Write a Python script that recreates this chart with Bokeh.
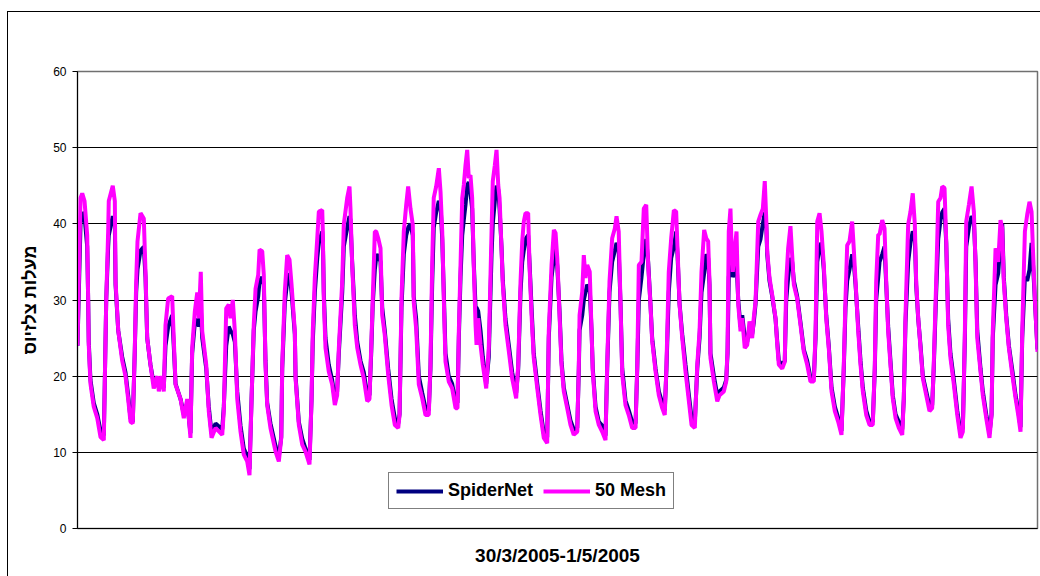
from bokeh.plotting import figure
from bokeh.models import Range1d, FixedTicker, Legend, LegendItem
from bokeh.embed import file_html
from bokeh.resources import INLINE

# Hours since start of logging (30/3/2005 .. 1/5/2005)
hours = [
    0, 2.5, 3.9, 5.8, 8.0, 8.8, 9.3, 10.7, 13.4, 16.3, 19.0, 21.7, 22.5,
    23.7, 25.3, 25.8, 29.1, 30.8, 31.4, 33.6, 36.9, 39.6, 41.8, 43.7, 45.6,
    47.3, 48.4, 49.5, 52.0, 54.7, 56.1, 57.5, 60.2, 62.9, 65.8, 67.1, 69.3, 71.2,
    72.6, 74.8, 78.1, 79.4, 80.9, 85.0, 87.7, 90.5, 93.2,
    94.6, 96.8, 98.8, 100.1, 101.7, 102.9, 106.2, 108.3, 110.6, 113.9, 119.4,
    120.7, 122.7, 124.8, 126.2, 128.1, 129.8, 131.8, 134.5, 137.2, 140.0, 141.9,
    143.6, 145.4, 146.9, 149.1, 150.2, 152.4, 153.7, 155.1, 156.5, 159.2, 163.4, 166.1, 168.1,
    168.9, 171.0, 173.0, 174.9, 176.6, 179.3, 179.9, 182.6, 185.4, 188.1, 191.4,
    193.1, 194.1, 195.8, 197.8, 199.1, 201.9, 202.4, 203.2, 204.6, 207.3, 210.1, 212.3, 214.2,
    215.6, 218.4, 219.7, 222.5, 224.4, 225.2, 226.6, 228.8, 230.8, 233.5, 236.2, 239.0, 240.9,
    242.3, 243.6, 245.3, 246.4, 248.1, 250.0, 251.4, 253.5, 256.3, 259.1, 261.8, 264.6, 265.7,
    267.3, 269.2, 271.2, 272.8, 274.7, 276.6, 277.4, 279.4, 281.6, 284.4, 287.1, 289.8,
    291.2, 292.6, 293.9, 295.9, 298.1, 299.5, 300.9, 302.2, 303.6, 306.3, 309.1, 311.9, 313.5,
    314.6, 316.0, 317.4, 318.7, 320.1, 321.5, 322.8, 324.2, 325.6, 326.9, 328.4, 329.2, 330.6, 332.5, 334.4, 337.2, 339.3,
    341.6, 342.6, 344.3, 345.7, 347.1, 348.2, 349.8, 350.9, 353.1, 355.9, 358.6, 361.9,
    363.6, 365.5, 366.9, 368.2, 369.6, 371.8, 372.9, 374.6, 376.4, 379.3, 382.0, 384.7, 387.5,
    388.8, 391.1, 393.0, 394.4, 395.8, 397.7, 399.3, 401.2, 404.0, 406.7, 409.4, 412.3,
    413.6, 414.2, 416.4, 417.7, 419.1, 420.5, 422.6, 424.1, 425.1, 427.4, 430.1, 432.9, 435.6,
    437.0, 438.9, 441.1, 443.3, 444.7, 446.5, 448.0, 449.4, 452.1, 454.8, 457.6, 460.4,
    461.8, 463.1, 465.3, 467.2, 469.2, 470.8, 472.7, 474.1, 476.9, 479.6, 482.4, 484.5,
    485.9, 487.8, 489.8, 492.0, 493.9, 495.0, 496.7, 498.9, 501.6, 504.4, 506.6, 509.3,
    511.3, 513.2, 514.8, 517.0, 518.7, 520.3, 521.4, 522.2, 525.0, 527.8, 529.7, 533.2, 535.2,
    536.3, 537.3, 538.7, 539.6, 540.6, 542.3, 543.7, 545.1, 547.0, 548.4, 550.5, 552.5, 554.4, 556.6, 557.9, 559.4,
    561.6, 563.5, 565.4, 567.0, 568.2, 569.0, 570.9, 573.1, 575.9, 577.3, 578.6, 581.4, 583.5,
    584.7, 586.3, 588.2, 589.6, 591.0, 593.7, 596.5, 599.2, 602.0, 604.7, 607.5, 608.9,
    610.3, 612.2, 613.8, 615.7, 617.7, 619.8, 622.1, 624.8, 627.6, 630.3,
    632.2, 633.6, 635.0, 636.9, 639.1, 640.4, 641.9, 644.1, 646.0, 647.9, 650.7, 653.4, 656.1,
    657.8, 658.9, 660.6, 661.7, 663.9, 665.8, 667.2, 668.8, 670.7, 672.6, 674.9, 677.6, 680.4,
    681.7, 683.1, 685.3, 687.2, 689.1, 690.8, 691.9, 693.6, 695.5, 697.4, 700.2, 702.9, 705.1,
    706.4, 708.4, 710.1, 712.0, 713.4, 715.3, 716.7, 718.3, 720.2, 723.0, 725.8, 728.5, 730.4,
    732.1, 733.2, 735.4, 737.6, 739.5, 740.9, 742.3, 745.0, 746.9, 749.7, 752.4, 754.1,
    755.1, 757.4, 759.6, 761.5, 762.9, 764.2, 766.2, 768.4, 771.2, 773.9, 776.1, 778.0,
    779.4, 781.6, 783.5, 785.4, 787.1, 788.2, 789.8, 792.0,
]

mesh50 = [
    24, 43.4, 44, 43, 38.5, 30, 24, 19, 16, 14.5, 12, 11.6, 19,
    30, 39, 43, 45, 43, 32.4, 26, 22, 20, 17, 14, 13.8,
    23.7, 32.4, 37.7, 41.4, 40.7, 33.7, 25, 21.5, 18.4, 20, 18, 20, 18,
    26.7, 30.2, 30.5, 25, 18.9, 17, 14.5, 17, 11.9,
    23.7, 28.5, 31, 27.6, 33.7, 25.9, 21.5, 15.4, 11.9, 13.2, 12.3,
    15.4, 28.9, 29.4, 27.6, 30, 25.9, 17, 12.7, 9.7, 8.8, 7,
    17, 26.7, 31.5, 33.3, 36.6, 36.4, 33.3, 21.5, 16.2, 13.2, 10.1, 8.8, 11.9,
    21.5, 31, 35.9, 35.3, 32, 25.9, 19.7, 13.6, 11, 10.1, 8.4,
    17, 25.9, 32.9, 38.1, 41.6, 41.8, 39, 30.2, 23.7, 20.6, 18.9, 16.2, 17.5,
    23.7, 32.4, 39.9, 43.4, 44.9, 42, 34.6, 26.7, 23.7, 21.5, 19.7, 16.7, 17,
    23.7, 30.2, 39, 39, 38.1, 36.8, 28, 25.4, 20.2, 16.2, 13.6, 13.2, 14.9,
    30.2, 39, 42.5, 44.9, 42, 39.9, 29.7, 26.2, 18.9, 17.1, 14.9, 14.9,
    21.5, 34.6, 43.4, 44.9, 47.3, 44.2, 39, 30.2, 21.9, 19.3, 18.4, 15.8, 15.8,
    25.9, 34.6, 43.4, 45.1, 47.7, 49.7, 46, 46.4, 43.4, 34.6, 26.7, 24.1, 27.6, 24.1, 21.5, 18.4, 23.7,
    39, 45.6, 47.7, 49.7, 45.1, 43.4, 36.8, 32, 26.7, 23.2, 19.7, 17.1,
    21.5, 32.4, 37.7, 40.3, 41.4, 41.4, 34.6, 28, 22.4, 18.4, 14.9, 11.9, 11.2,
    25.9, 34.6, 39.2, 38.8, 35.5, 28, 21.5, 18, 15.8, 13.6, 12.3, 12.7,
    21.5, 28, 31.1, 35.9, 32.9, 34.6, 33.7, 25.9, 20.6, 15.4, 13.6, 12.7, 11.6,
    21.5, 32.4, 38.1, 39.4, 41, 39, 29.4, 20.2, 16.2, 14.9, 13.2, 13.2,
    21.5, 34.6, 35, 42, 42.5, 34.6, 29.4, 24.6, 20.6, 17.5, 15.8, 14.9,
    21.5, 33.7, 38.1, 41.8, 41.6, 36.8, 29.4, 25, 20.6, 16.7, 13.6, 13.2,
    21.5, 25.9, 33.7, 39.2, 38.1, 37.7, 32.4, 22.4, 19.3, 16.7, 17.5, 18, 19.3,
    23.7, 39, 42, 37.2, 33.7, 36.8, 39, 29.4, 25.9, 27.6, 23.7, 24.1, 27.2, 25, 27.6, 29.8,
    40.3, 41.2, 42, 45.6, 40.7, 36.4, 32.9, 30.7, 27.6, 24.1, 21.5, 21, 21.9,
    32.4, 36.8, 39.7, 35.9, 32, 30.2, 26.7, 23.2, 21.5, 19.3, 19.3, 25.9,
    40.3, 41.4, 39, 34.6, 27.6, 23.7, 18, 15.4, 14, 12.3,
    21.5, 30.2, 37.2, 37.7, 40.3, 36.8, 32.4, 25.9, 21.5, 18, 14.9, 13.6, 13.6,
    21.5, 32.4, 38.6, 38.6, 40.5, 39.4, 32.4, 25.9, 21.5, 17.1, 14.5, 13.2, 12.3,
    17.1, 28, 39.9, 41.6, 44, 39.9, 32.4, 27.6, 23.7, 19.7, 17.5, 15.4, 15.8,
    21.5, 32.4, 42.9, 43.4, 44.9, 44.7, 37.7, 26.7, 22.4, 18.9, 14.9, 11.9, 12.7,
    25.9, 40.3, 42.5, 44.9, 41.6, 34.6, 25, 20.6, 17.5, 14.5, 11.9, 14.9,
    25.9, 36.8, 35, 40.5, 39.4, 32.4, 27.6, 23.7, 20.2, 17.1, 14.9, 12.7,
    25.9, 39, 41.2, 42.9, 41.6, 36.8, 30.2, 23.2,
]

spidernet = [
    24, 40, 41.5, 41, 37, 30, 24.5, 19.5, 16.5, 15, 12.8, 12.2, 19,
    30, 37, 38.5, 41, 40, 32, 26, 22.5, 20.5, 17.5, 14.5, 14,
    23.5, 31, 34, 36.5, 37, 33, 25, 21.5, 19, 19.5, 18.5, 19.5, 18.5,
    24, 26.5, 28, 24, 19, 17, 15, 16.5, 12.5,
    23, 27, 27.5, 26.5, 29, 25, 21, 16, 12.5, 13.8, 13,
    16, 24, 26.5, 26, 25.5, 24.5, 18, 13.5, 10.5, 9.5, 7.8,
    17, 26, 28.5, 30.5, 32.5, 33, 32, 22, 16.5, 13.8, 10.8, 9.5, 12,
    21, 29.5, 32.5, 33.5, 31, 25.5, 20, 14, 11.8, 10.5, 9,
    17, 24.5, 31, 35.5, 37.5, 39, 38, 31, 25, 21.5, 19.5, 17, 18,
    23, 31, 37, 39.5, 41, 40.5, 35, 28, 24.5, 22, 20.5, 17.5, 17.5,
    23, 29.5, 34, 35.5, 36, 35, 29, 26, 21, 17, 14.5, 13.8, 15,
    29, 36, 38.5, 39.5, 40, 38.5, 30.5, 27.5, 20, 17.8, 15.8, 15.5,
    21, 32, 39.5, 41.5, 43, 42.5, 38, 31, 23, 20, 19, 16.5, 16.5,
    25, 33, 38.5, 40.5, 42.5, 45, 45.5, 44, 42, 35, 29, 29, 28.5, 26, 22.5, 19, 22.5,
    36, 40, 43, 45, 44.5, 42, 37, 32.5, 27.5, 24, 20.5, 17.8,
    21, 31, 35, 36.5, 38, 38.5, 35, 29, 23, 19, 15.5, 12.5, 12,
    25, 33, 35.5, 37, 34.5, 28.5, 22, 18.5, 16.3, 14.2, 13, 13.2,
    21, 26, 28, 30, 31, 32, 31.5, 26, 21, 16, 14, 13.5, 12.2,
    21, 31, 35, 36.5, 37.5, 36.5, 29.5, 21, 16.8, 15.5, 14, 13.8,
    21, 30, 33, 36, 38, 35, 29.5, 25, 21, 18, 16.5, 15.5,
    21, 31, 35.5, 37, 39, 36, 29.5, 25.5, 21.5, 17.5, 14.5, 14,
    21, 25, 31, 33.5, 36, 35.5, 32, 23, 20, 17.5, 18, 18.5, 19.5,
    23, 33, 35, 34.5, 33, 34, 35, 30, 26.5, 28, 25, 24.5, 26.5, 25.5, 27, 29.5,
    37, 38, 40, 41.5, 40, 36, 32.5, 30.5, 27.5, 24.5, 22, 21.5, 22,
    30, 33, 35.5, 35, 32.5, 30.5, 27, 23.5, 22, 19.8, 19.8, 25,
    35, 37, 37.5, 34, 28, 24, 18.5, 16, 14.5, 12.8,
    21, 29, 32.5, 34, 36, 35, 32, 26.5, 22, 18.5, 15.5, 14, 14,
    21, 30, 33, 35, 36, 37, 32, 26.5, 22, 17.5, 15, 14, 13,
    17, 27, 35, 37.5, 39, 38.5, 32, 27.5, 24, 20, 18, 16, 16.2,
    21, 31, 38, 40.5, 41.5, 42, 37.5, 27.5, 23, 19.5, 15.5, 12.5, 13.2,
    25, 37, 39.5, 41, 40.5, 35, 26, 21, 18, 15, 12.5, 15,
    25, 32, 33.5, 38, 40, 33, 28, 24, 20.8, 17.5, 15.5, 13.3,
    25, 33, 32.5, 34, 37.5, 35, 30, 23.5,
]

series_names = ["SpiderNet", "50 Mesh"]
series_colors = ["#000080", "#FF00FF"]
y_ticks = [0, 10, 20, 30, 40, 50, 60]
x_title = "30/3/2005-1/5/2005"
y_title = "מעלות צלזיוס"

assert len(hours) == len(mesh50) == len(spidernet), (len(hours), len(mesh50), len(spidernet))

FONT = "Liberation Sans, Arial, DejaVu Sans, sans-serif"

p = figure(width=1033, height=565, output_backend="svg", toolbar_location=None,
           x_range=Range1d(0, 792), y_range=Range1d(0, 60),
           min_border_left=69, min_border_top=59, min_border_right=4, min_border_bottom=49)
p.margin = (11, 0, 0, 7)
p.styles = {"border-top": "1px solid #000000", "border-left": "1px solid #000000"}
p.background_fill_color = "white"
p.border_fill_color = "white"
p.outline_line_color = "#707070"
p.outline_line_width = 1.5

r_spider = p.line(hours, spidernet, line_color=series_colors[0], line_width=4)
r_mesh = p.line(hours, mesh50, line_color=series_colors[1], line_width=4)

# axes
p.xaxis.ticker = FixedTicker(ticks=[])
p.xaxis.major_label_text_font_size = "0px"
p.xaxis.major_tick_line_color = None
p.xaxis.minor_tick_line_color = None
p.xaxis.axis_line_color = "black"
p.xaxis.axis_label = x_title
p.xaxis.axis_label_text_font = FONT
p.xaxis.axis_label_text_font_style = "bold"
p.xaxis.axis_label_text_font_size = "19px"
p.xaxis.axis_label_text_color = "black"
p.xaxis.axis_label_standoff = 16

p.yaxis.ticker = FixedTicker(ticks=y_ticks)
p.yaxis.major_tick_out = 5
p.yaxis.major_tick_in = 0
p.yaxis.minor_tick_line_color = None
p.yaxis.axis_line_color = "black"
p.yaxis.major_tick_line_color = "black"
p.yaxis.major_label_text_font = FONT
p.yaxis.major_label_text_font_size = "12px"
p.yaxis.major_label_text_color = "black"
p.yaxis.major_label_standoff = 6
p.yaxis.axis_label = y_title
p.yaxis.axis_label_text_font = FONT
p.yaxis.axis_label_text_font_style = "bold"
p.yaxis.axis_label_text_font_size = "18px"
p.yaxis.axis_label_text_color = "black"
p.yaxis.axis_label_standoff = 10

p.xgrid.grid_line_color = None
p.ygrid.grid_line_color = "black"
p.ygrid.grid_line_width = 1
p.ygrid.ticker = FixedTicker(ticks=y_ticks)

legend = Legend(items=[LegendItem(label=series_names[0], renderers=[r_spider]),
                       LegendItem(label=series_names[1], renderers=[r_mesh])],
                orientation="horizontal", location=(311, 19),
                glyph_width=47, glyph_height=20, label_standoff=5, spacing=10,
                padding=7, margin=0,
                border_line_color="black", border_line_width=1,
                background_fill_color="white", background_fill_alpha=1,
                label_text_font=FONT, label_text_font_style="bold",
                label_text_font_size="18px", label_text_color="black")
p.add_layout(legend, "center")

open("out.html", "w").write(file_html(p, INLINE))
